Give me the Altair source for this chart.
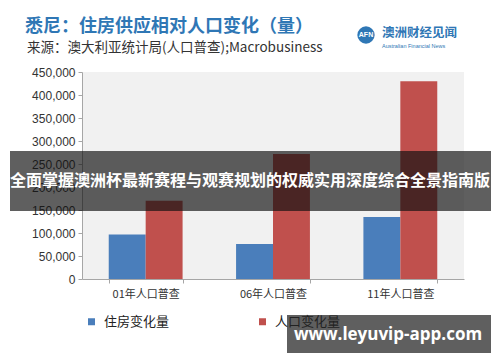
import altair as alt
import pandas as pd

categories = ["01年人口普查", "06年人口普查", "11年人口普查"]
series = ["住房变化量", "人口变化量"]
housing = [97000, 76000, 135000]
population = [170000, 272000, 430000]
y_ticks = [0, 50000, 100000, 150000, 200000, 250000, 300000, 350000, 400000, 450000]
colors = ["#4a7ebb", "#c0504d"]

title_text = "悉尼：住房供应相对人口变化（量）"
subtitle_text = "来源：澳大利亚统计局(人口普查);Macrobusiness"
logo_cn = "澳洲财经见闻"
logo_en = "Australian Financial News"
logo_mark = "AFN"
banner_text = "全面掌握澳洲杯最新赛程与观赛规划的权威实用深度综合全景指南版"
url_text = "www.leyuvip-app.com"

rows = []
for i, c in enumerate(categories):
    rows.append({"cat": c, "series": series[0], "value": housing[i]})
    rows.append({"cat": c, "series": series[1], "value": population[i]})
df = pd.DataFrame(rows)

CJK = "Noto Sans CJK SC"
W, H = 382, 207
one = pd.DataFrame({"k": [0]})

bars = alt.Chart(df).mark_bar().encode(
    x=alt.X("cat:N", sort=categories, title=None,
            scale=alt.Scale(paddingInner=0.42, paddingOuter=0.21),
            axis=alt.Axis(labelAngle=0, labelFontSize=11, labelColor="#333333", labelFont=CJK,
                          tickBand="extent", domainColor="#a6a6a6", tickColor="#a6a6a6",
                          tickSize=4, labelPadding=5)),
    xOffset=alt.XOffset("series:N", sort=series, scale=alt.Scale(domain=series, paddingInner=0, paddingOuter=0)),
    y=alt.Y("value:Q", title=None, scale=alt.Scale(domain=[0, 450000], nice=False),
            axis=alt.Axis(values=y_ticks, format=",.0f", grid=False, labelFontSize=12,
                          labelColor="#333333", labelFont="Liberation Sans",
                          domainColor="#a6a6a6", tickColor="#a6a6a6", tickSize=4, labelPadding=3)),
    color=alt.Color("series:N", scale=alt.Scale(domain=series, range=colors),
                    legend=alt.Legend(title=None, orient="none", legendX=3, legendY=243,
                                      direction="horizontal", symbolType="square", symbolSize=49,
                                      symbolStrokeWidth=0, labelFont=CJK, labelFontSize=13,
                                      labelColor="#222222", labelOffset=6, columnPadding=86,
                                      padding=0)),
)

def txt(text, x, y, size, color, weight="normal", font=CJK, align="left"):
    return alt.Chart(one).mark_text(text=text, align=align, baseline="middle", fontSize=size,
                                    color=color, fontWeight=weight, font=font).encode(
        x=alt.value(x), y=alt.value(y))

title = txt(title_text, -57, -45, 18, "#2f77b5", "bold")
subtitle = txt(subtitle_text, -55, -24, 13.5, "#333333")
logo_circle = alt.Chart(one).mark_point(shape="circle", filled=True, color="#2f77b5", opacity=1,
                                        size=300).encode(x=alt.value(284), y=alt.value(-37))
logo_afn = txt(logo_mark, 284, -37, 7, "white", "bold", "Liberation Sans", "center")
logo_cn_t = txt(logo_cn, 300, -39, 12.5, "#2f77b5", "bold")
logo_en_t = txt(logo_en, 300, -26, 5.5, "#2f77b5", "normal", "Liberation Sans")

banner = alt.Chart(one).mark_rect(color="#111111", opacity=0.67).encode(
    x=alt.value(-72), x2=alt.value(409), y=alt.value(79), y2=alt.value(139))
banner_t = txt(banner_text, 168, 109, 16, "white", "bold", CJK, "center")

urlbox = alt.Chart(one).mark_rect(color="#111111", opacity=0.67).encode(
    x=alt.value(205), x2=alt.value(409), y=alt.value(243), y2=alt.value(281))
url_t = txt(url_text, 306, 263, 17, "white", "bold", "Open Sans", "center")

chart = alt.layer(
    bars, title, subtitle, logo_circle, logo_afn, logo_cn_t, logo_en_t,
    banner, banner_t, urlbox, url_t
).properties(
    width=W, height=H,
    autosize=alt.AutoSizeParams(type="none"),
    padding={"left": 74, "top": 64, "right": 28, "bottom": 75},
    background="white",
).configure_view(fill="#f1f1f1", stroke=None)

chart.save("out.html", embed_options={"renderer": "svg", "actions": False})
